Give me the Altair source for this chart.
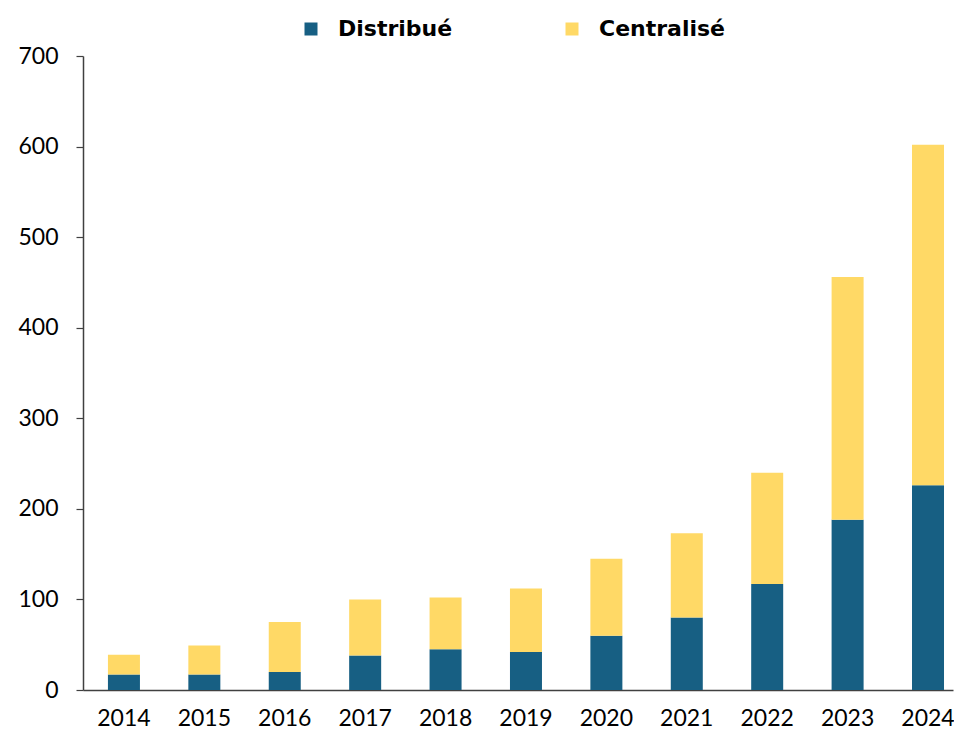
import altair as alt
import pandas as pd

years = ["2014", "2015", "2016", "2017", "2018", "2019", "2020", "2021", "2022", "2023", "2024"]
distribue = [17, 17, 20, 38, 45, 42, 60, 80, 117, 188, 226]
total = [39, 49, 75, 100, 102, 112, 145, 173, 240, 456, 602]
centralise = [t - d for t, d in zip(total, distribue)]

series = ["Distribué", "Centralisé"]
colors = ["#175F83", "#FFD966"]

rows = []
for y, d, c in zip(years, distribue, centralise):
    rows.append({"year": y, "serie": series[0], "value": d, "ord": 0})
    rows.append({"year": y, "serie": series[1], "value": c, "ord": 1})
df = pd.DataFrame(rows)

chart = alt.Chart(df).mark_bar().encode(
    x=alt.X("year:N", sort=years, title=None,
            scale=alt.Scale(paddingInner=0.602, paddingOuter=0.211, align=0.735),
            axis=alt.Axis(labelAngle=0, ticks=False, labelPadding=17, labelFont="Lato",
                          labelFontSize=23, labelColor="#000000", domainColor="#404040",
                          domainWidth=1.5)),
    y=alt.Y("value:Q", stack="zero", title=None,
            scale=alt.Scale(domain=[0, 700]),
            axis=alt.Axis(values=[0, 100, 200, 300, 400, 500, 600, 700], grid=False,
                          tickSize=7, labelPadding=18, labelFont="Lato", labelFontSize=23,
                          labelColor="#000000", domainColor="#404040", tickColor="#404040",
                          domainWidth=1.5, tickWidth=1.2)),
    color=alt.Color("serie:N", scale=alt.Scale(domain=series, range=colors),
                    legend=alt.Legend(title=None, orient="none", legendX=217, legendY=-38,
                                      direction="horizontal", symbolType="square",
                                      symbolSize=169, symbolStrokeWidth=0, labelOffset=16,
                                      columnPadding=108, labelFont="DejaVu Sans",
                                      labelFontWeight="bold", labelFontSize=22,
                                      labelColor="#000000", padding=0)),
    order=alt.Order("ord:Q", sort="ascending"),
).properties(
    width=870, height=634,
    autosize=alt.AutoSizeParams(type="none"),
    padding={"left": 75, "top": 48, "right": 1, "bottom": 40},
).configure_view(stroke=None)

chart.save("out.html", embed_options={"renderer": "svg", "actions": False})
